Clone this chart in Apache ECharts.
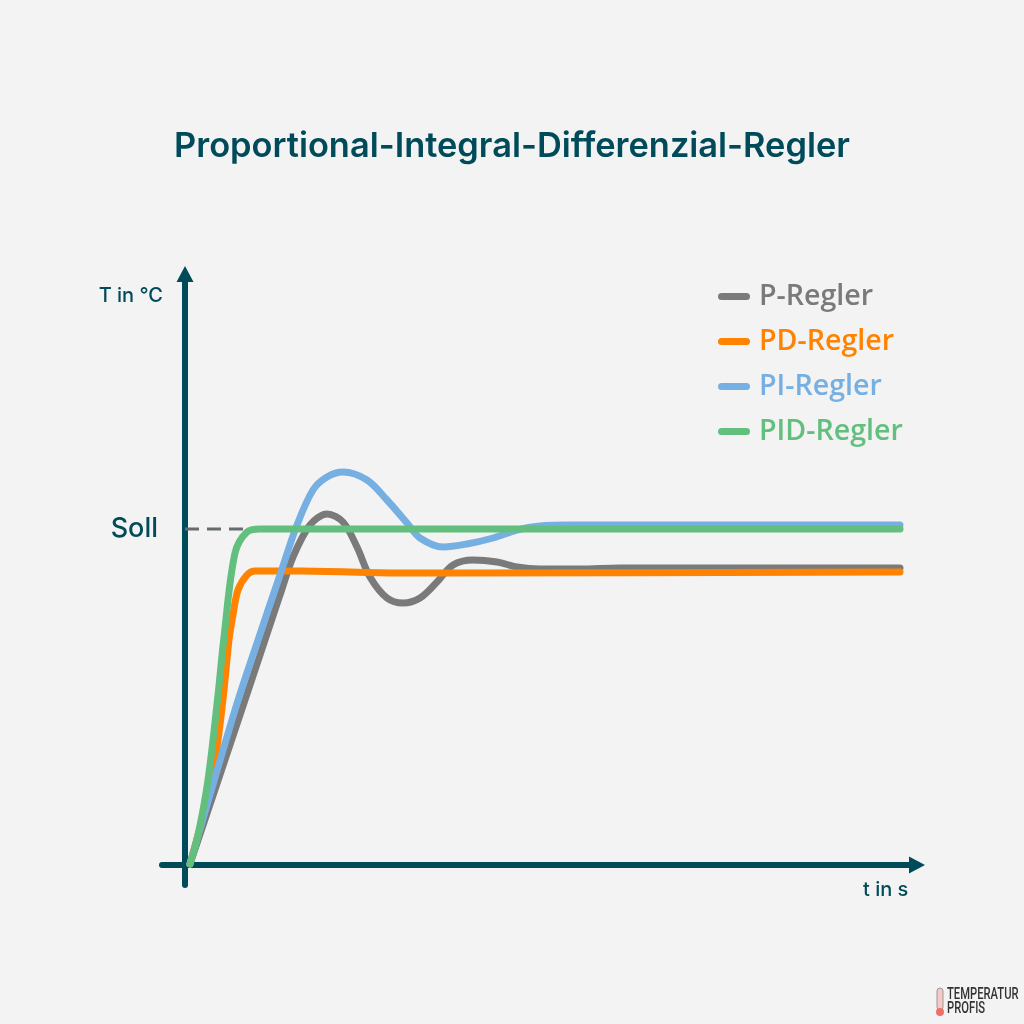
<!DOCTYPE html>
<html><head><meta charset="utf-8">
<style>html,body{margin:0;padding:0;background:#f3f3f3}#c{width:1024px;height:1024px}</style>
<script src="https://cdn.jsdelivr.net/npm/echarts@6/dist/echarts.min.js"></script>
</head><body><div id="c"></div>
<script>
const titleText = 'Proportional-Integral-Differenzial-Regler';
const seriesNames = ['P-Regler','PD-Regler','PI-Regler','PID-Regler'];
const sollLabel = 'Soll';
const sollValue = 336;
const pX = [5,55,80,95,108,125,142,158,172,185,202,218,235,252,268,288,312,332,355,395,435,715];
const pY = [1,150,225,270,308,340,351,343,318,288,267,262,267,283,300,305,303,298,296,296,297,297];
const pdX = [5,13,25,33,39,44,48,53,62,70,115,215,265,715];
const pdY = [1,30,75,125,175,225,250,275,290,294,294,292,292,293];
const piX = [5,50,72,95,112,128,142,158,182,202,222,235,258,282,308,332,355,385,715];
const piY = [1,155,222,290,340,375,388,393,385,365,342,327,318,321,327,335,339,340,340];
const pidX = [5,13,23,33,39,50,62,75,110,715];
const pidY = [1,30,85,170,228,312,333,336,336,336];
const sollX = [0,72];
const colors = ['#7a7a7a','#ff8200','#76b0e2','#63bf7d'];
const dark = '#004b5a';
const zip = (a,b)=>a.map((v,i)=>[v,b[i]]);
const curves = [zip(pX,pY),zip(pdX,pdY),zip(piX,piY),zip(pidX,pidY)];
const axisLine = {onZero:true,symbol:['none','triangle'],symbolSize:[17,16],symbolOffset:[0,0],
  lineStyle:{color:dark,width:6,cap:'round'}};
const chart = echarts.init(document.getElementById('c'),null,{renderer:'canvas'});
chart.setOption({
  animation:false,
  backgroundColor:'#f3f3f3',
  textStyle:{fontFamily:'Inter'},
  title:{text:titleText,left:'center',top:125,
    textStyle:{fontFamily:'Inter',fontSize:34.4,fontWeight:600,color:dark}},
  legend:{orient:'vertical',left:713,top:277,itemWidth:32,itemHeight:7,itemGap:16,
    icon:'path://M3.5 0H28.5A3.5 3.5 0 0 1 28.5 7H3.5A3.5 3.5 0 0 1 3.5 0Z',
    data:seriesNames.map((n,i)=>({name:n,textStyle:{color:colors[i]}})),
    textStyle:{fontFamily:'Open Sans',fontSize:28.6,fontWeight:600,lineHeight:26,padding:[0,0,0,4]}},
  grid:{left:162,top:274,width:755,height:611},
  xAxis:{type:'value',min:-23,max:732,splitLine:{show:false},axisTick:{show:false},axisLabel:{show:false},
    axisLine:axisLine,name:'t in s',nameLocation:'end',nameGap:-54,
    nameTextStyle:{color:dark,fontSize:20,fontWeight:500,align:'left',verticalAlign:'top',padding:[15,0,0,0]}},
  yAxis:{type:'value',min:-20,max:591,splitLine:{show:false},
    axisTick:{show:false},
    axisLabel:{show:true,customValues:[sollValue],formatter:()=>sollLabel,margin:4,
      color:dark,fontSize:27,fontWeight:500},
    axisLine:axisLine,name:'T in °C',nameLocation:'end',nameGap:-32,
    nameTextStyle:{color:dark,fontSize:20,fontWeight:500,align:'right',padding:[0,22,0,0]}},
  series:[
    {type:'line',name:'Soll',silent:true,symbol:'none',data:sollX.map(x=>[x,sollValue]),z:1,
     lineStyle:{color:'#666b6e',width:3,type:[14,8]}},
    ...curves.map((d,i)=>({type:'line',name:seriesNames[i],data:d,smooth:0.33,symbol:'none',z:2+i,
      itemStyle:{color:colors[i]},
      lineStyle:{color:colors[i],width:7,cap:'round',join:'round'}}))
  ],
  graphic:[
    {type:'rect',shape:{x:937,y:988,width:6,height:22,r:3},style:{fill:'#f6c9c5',stroke:'#9a9a9a',lineWidth:1}},
    {type:'circle',shape:{cx:940,cy:1012,r:4},style:{fill:'#ef6f66'}},
    {type:'text',x:947,y:988,scaleX:0.66,style:{text:'TEMPERATUR\nPROFIS',fill:'#333333',
      fontFamily:'Roboto',fontWeight:500,fontSize:17,lineHeight:14}}
  ]
});
</script></body></html>
